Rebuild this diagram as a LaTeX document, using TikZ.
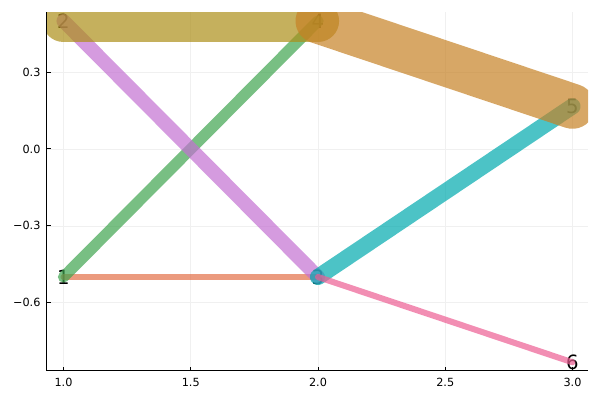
\documentclass[tikz,border=0pt]{standalone}
\usepackage{fontspec}
\setmainfont{DejaVu Sans}

\definecolor{pcoltwo}{HTML}{E36F47}
\definecolor{pcolthree}{HTML}{3EA44E}
\definecolor{pcolfour}{HTML}{C371D2}
\definecolor{pcolfive}{HTML}{AC8E18}
\definecolor{pcolsix}{HTML}{00AAAE}
\definecolor{pcolseven}{HTML}{ED5E93}
\definecolor{pcoleight}{HTML}{C68225}

\begin{document}
\begin{tikzpicture}[line width=0.7pt,
  gridline/.style={line width=0.4pt,black!6},
  edge/.style={draw opacity=0.7,line cap=round},
  vlabel/.style={inner sep=0pt,font=\fontsize{14}{16}\selectfont},
  ticklab/.style={inner sep=0pt,font=\fontsize{8}{9}\selectfont}]
  \path[use as bounding box] (0,0) rectangle (15,10);
  \begin{scope}[shift={(-4.775cm,6.275cm)},x=6.3625cm,y=6.4cm]
  \coordinate (corner) at (0.935,-0.867);
  \coordinate (ytop) at (0.935,0.535);
  \coordinate (xend) at (3.061,-0.867);
  % grid
  \foreach \gx in {1,1.5,2,2.5,3}
    \draw[gridline] (\gx,-0.867) -- (\gx,0.535);
  \foreach \gy in {-0.6,-0.3,0,0.3}
    \draw[gridline] (0.935,\gy) -- (3.061,\gy);
  % vertices
  \node[vlabel] (v1) at (1,-0.5) {1};
  \node[vlabel] (v2) at (1,0.5) {2};
  \node[vlabel] (v3) at (2,-0.5) {3};
  \node[vlabel] (v4) at (2,0.5) {4};
  \node[vlabel] (v5) at (3,0.1667) {5};
  \node[vlabel] (v6) at (3,-0.8333) {6};
  % edges, width by weight
  \begin{scope}
    \clip (corner) rectangle (3.061,0.535);
    \draw[edge,pcoltwo,line width=4.3pt] (v1.center) -- (v3.center);
    \draw[edge,pcolthree,line width=8pt] (v1.center) -- (v4.center);
    \draw[edge,pcolfour,line width=10pt] (v2.center) -- (v3.center);
    \draw[edge,pcolfive,line width=30pt] (v2.center) -- (v4.center);
    \draw[edge,pcolsix,line width=11.5pt] (v3.center) -- (v5.center);
    \draw[edge,pcolseven,line width=4.3pt] (v3.center) -- (v6.center);
    \draw[edge,pcoleight,line width=32pt] (v4.center) -- (v5.center);
  \end{scope}
  % axes
  \draw (ytop) -- (corner) -- (xend);
  \foreach \gx/\lab in {1/1.0,1.5/1.5,2/2.0,2.5/2.5,3/3.0} {
    \draw (\gx,-0.867) -- ++(0,0.1cm);
    \node[ticklab] at ([yshift=-0.28cm]\gx,-0.867) {\lab};
  }
  \foreach \gy/\lab in {-0.6/−0.6,-0.3/−0.3,0/0.0,0.3/0.3} {
    \draw (0.935,\gy) -- ++(0.1cm,0);
    \node[ticklab,anchor=east] at ([xshift=-0.15cm]0.935,\gy) {\lab};
  }
  \end{scope}
\end{tikzpicture}
\end{document}
